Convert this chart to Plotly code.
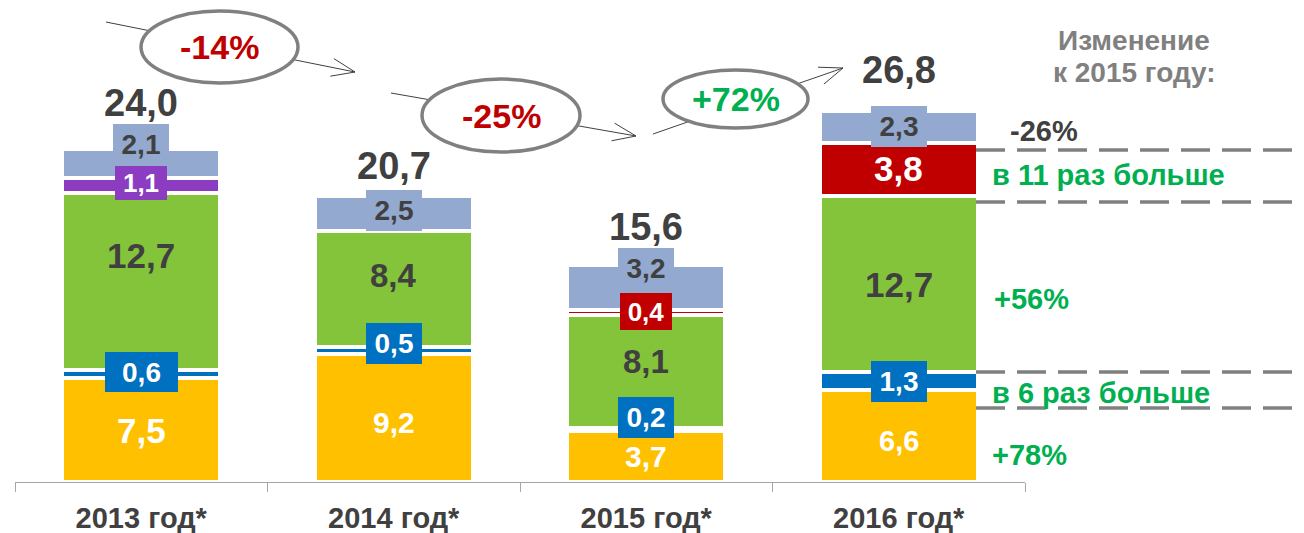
import math
import plotly.graph_objects as go

# ---------------- data ----------------
years = ["2013 год*", "2014 год*", "2015 год*", "2016 год*"]
yellow = [7.5, 9.2, 3.7, 6.6]
blue = [0.6, 0.5, 0.2, 1.3]
green = [12.7, 8.4, 8.1, 12.7]
purple = [1.1, None, None, None]
red = [None, None, 0.4, 3.8]
top = [2.1, 2.5, 3.2, 2.3]
totals = [24.0, 20.7, 15.6, 26.8]
yoy_changes = ["-14%", "-25%", "+72%"]
right_labels = ["-26%", "в 11 раз больше", "+56%", "в 6 раз больше", "+78%"]
header_lines = ["Изменение", "к 2015 году:"]

# ---------------- geometry / style ----------------
W, H = 1304, 533
PX_LEFT, PX_RIGHT, PX_TOP, PX_BOTTOM = 15, 1025, 0, 482
UNIT_PX = 13.88
Y_MAX = (PX_BOTTOM - PX_TOP) / UNIT_PX


def fx(x):
    return (x - PX_LEFT) / (PX_RIGHT - PX_LEFT)


def fy(y):
    return (PX_BOTTOM - y) / (PX_BOTTOM - PX_TOP)


FONT = "Liberation Sans, Arial, sans-serif"
DARK = "#404040"
GREEN_TXT = "#00B050"
RED_TXT = "#C00000"
GRAY = "#808080"


def fmt(v):
    return f"{v:.1f}".replace(".", ",")


series = [
    dict(key="yellow", values=yellow, color="#FFC000", text_color="white", boxed=False,
         shift=[-1, -4, 0, -5], size=[35, 30, 30, 29]),
    dict(key="blue", values=blue, color="#0070C0", text_color="white", boxed=True,
         shift=[2, 7, 12, 0], size=[28, 28, 28, 28]),
    dict(key="green", values=green, color="#84C43A", text_color=DARK, boxed=False,
         shift=[26, 14, 10, 0], size=[35, 33, 33, 35]),
    dict(key="purple", values=purple, color="#8B3CC0", text_color="white", boxed=True,
         shift=[3, 0, 0, 0], size=[26, 26, 26, 26]),
    dict(key="red", values=red, color="#C00000", text_color="white", boxed=True,
         shift=[0, 0, 1, 1], size=[26, 26, 26, 35]),
    dict(key="top", values=top, color="#93A9CF", text_color=DARK, boxed=True,
         shift=[19, 3, 19, 1], size=[28, 28, 28, 28]),
]
box_size_default = (56, 41)
box_size_override = {("blue", 0): (73, 40), ("purple", 0): (52, 34), ("red", 2): (52, 37)}
unboxed = {("red", 3)}
total_shift = [46, 29, 38, 40]

fig = go.Figure()
annotations = []
shapes = []

base = [0.0] * len(years)
for s in series:
    fig.add_trace(go.Bar(
        x=years, y=s["values"], marker=dict(color=s["color"], line=dict(color="white", width=4)),
        hoverinfo="skip", showlegend=False,
    ))
    for i, v in enumerate(s["values"]):
        if v is None:
            continue
        center = base[i] + v / 2
        ann = dict(x=years[i], y=center, xref="x", yref="y", text=fmt(v), showarrow=False,
                   yshift=s["shift"][i], xanchor="center", yanchor="middle",
                   font=dict(family=FONT, size=s["size"][i], color=s["text_color"], weight="bold"))
        if s["boxed"] and (s["key"], i) not in unboxed:
            w, h = box_size_override.get((s["key"], i), box_size_default)
            ann.update(bgcolor=s["color"], width=w, height=h, borderpad=0, borderwidth=0)
        annotations.append(ann)
        base[i] += v

# totals
for i, t in enumerate(totals):
    annotations.append(dict(x=years[i], y=t, xref="x", yref="y", text=fmt(t), showarrow=False,
                            yshift=total_shift[i], yanchor="middle",
                            font=dict(family=FONT, size=38, color=DARK, weight="bold")))

# year-over-year arrows with ellipses (pixel positions of the decoration)
arrow_paths = [((106, 22), (355, 72)), ((391, 93), (636, 136)), ((653, 134), (843, 68))]
ellipses = [(141, 11, 298, 83), (422, 79, 580, 152), (663, 70, 808, 128)]
yoy_colors = [RED_TXT, RED_TXT, GREEN_TXT]
WING_LEN, WING_ANG = 25, math.radians(21)
for (x0, y0), (x1, y1) in arrow_paths:
    shapes.append(dict(type="line", xref="paper", yref="paper", x0=fx(x0), y0=fy(y0), x1=fx(x1), y1=fy(y1),
                       line=dict(color=DARK, width=1)))
    ang = math.atan2(y0 - y1, x0 - x1)
    for sgn in (-1, 1):
        a = ang + sgn * WING_ANG
        wx, wy = x1 + WING_LEN * math.cos(a), y1 + WING_LEN * math.sin(a)
        shapes.append(dict(type="line", xref="paper", yref="paper", x0=fx(x1), y0=fy(y1), x1=fx(wx), y1=fy(wy),
                           line=dict(color=DARK, width=1)))
for (ex0, ey0, ex1, ey1), txt, col in zip(ellipses, yoy_changes, yoy_colors):
    shapes.append(dict(type="circle", xref="paper", yref="paper", x0=fx(ex0), y0=fy(ey1), x1=fx(ex1), y1=fy(ey0),
                       fillcolor="white", line=dict(color=GRAY, width=3.5)))
    annotations.append(dict(x=fx((ex0 + ex1) / 2), y=fy((ey0 + ey1) / 2), xref="paper", yref="paper", text=txt,
                            showarrow=False, xanchor="center", yanchor="middle",
                            font=dict(family=FONT, size=34, color=col, weight="bold")))

# dashed guide lines on the right
for yy in [150, 202, 372, 408]:
    shapes.append(dict(type="line", xref="paper", yref="paper", x0=fx(976), x1=fx(1304), y0=fy(yy), y1=fy(yy),
                       line=dict(color=GRAY, width=3.5, dash="29px,12px")))

# right-side change labels
right_pos = [(1008, 131), (990, 175), (992, 299), (990, 393), (990, 455)]
right_cols = [DARK, GREEN_TXT, GREEN_TXT, GREEN_TXT, GREEN_TXT]
for txt, (xx, yy), col in zip(right_labels, right_pos, right_cols):
    annotations.append(dict(x=fx(xx), y=fy(yy), xref="paper", yref="paper", text=txt, showarrow=False,
                            xanchor="left", yanchor="middle",
                            font=dict(family=FONT, size=29, color=col, weight="bold")))

for txt, yy in zip(header_lines, [40, 72]):
    annotations.append(dict(x=fx(1134), y=fy(yy), xref="paper", yref="paper", text=txt, showarrow=False,
                            xanchor="center", yanchor="middle",
                            font=dict(family=FONT, size=28, color=GRAY, weight="bold")))

fig.update_layout(
    width=W, height=H, barmode="stack", bargap=0.374,
    margin=dict(l=PX_LEFT, r=W - PX_RIGHT, t=PX_TOP, b=H - PX_BOTTOM, autoexpand=False),
    paper_bgcolor="white", plot_bgcolor="white",
    annotations=annotations, shapes=shapes,
    xaxis=dict(type="category", range=[-0.5, 3.5], showline=True, linecolor="#A6A6A6", linewidth=1,
               ticks="outside", tickson="boundaries", ticklen=9, tickcolor="#A6A6A6", tickwidth=1,
               ticklabelstandoff=10, automargin=False,
               tickfont=dict(family=FONT, size=29, color=DARK, weight="bold"), showgrid=False),
    yaxis=dict(range=[0, Y_MAX], visible=False, showgrid=False, zeroline=False),
)

fig.write_html("out.html", config={"displayModeBar": False},
               post_script="document.body.style.margin='0';document.body.style.overflow='hidden';")
